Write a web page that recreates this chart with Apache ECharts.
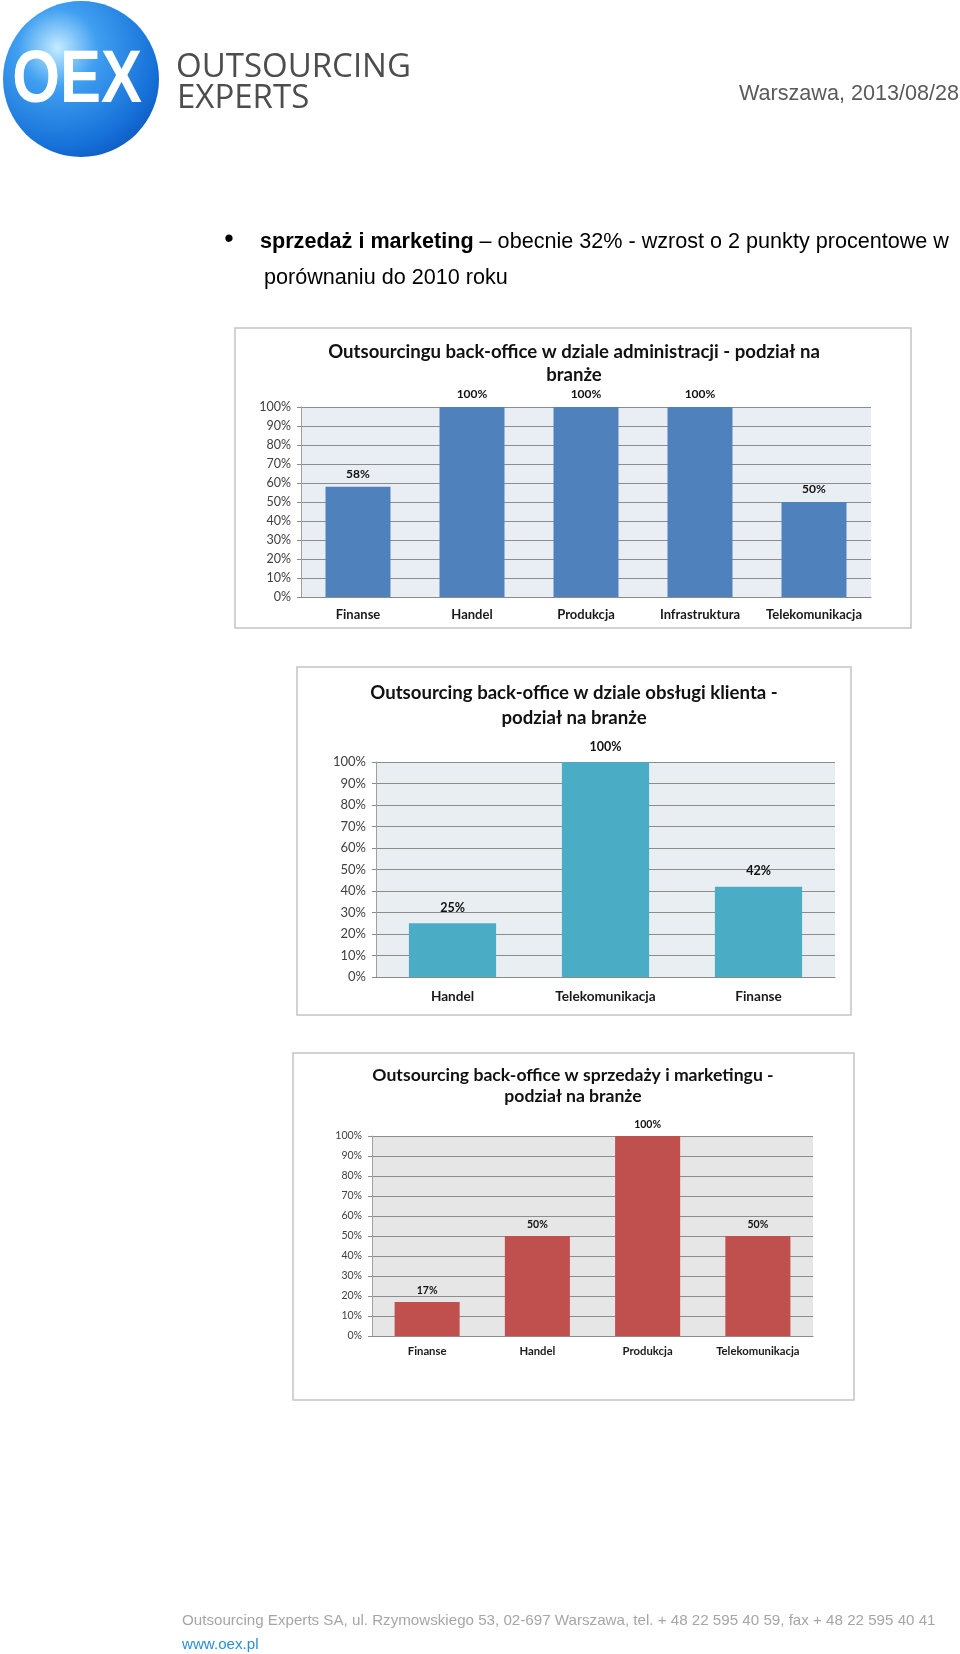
<!DOCTYPE html>
<html>
<head>
<meta charset="utf-8">
<script src="https://cdn.jsdelivr.net/npm/echarts@6/dist/echarts.min.js"></script>
<style>
html,body{margin:0;padding:0;background:#fff;}
#c{width:960px;height:1654px;}
</style>
</head>
<body>
<div id="c"></div>
<script>
// ---- data ----
const cats1 = ['Finanse', 'Handel', 'Produkcja', 'Infrastruktura', 'Telekomunikacja'];
const vals1 = [58, 100, 100, 100, 50];
const cats2 = ['Handel', 'Telekomunikacja', 'Finanse'];
const vals2 = [25, 100, 42];
const cats3 = ['Finanse', 'Handel', 'Produkcja', 'Telekomunikacja'];
const vals3 = [17, 50, 100, 50];
const yTicks = { min: 0, max: 100, interval: 10 };
const title1 = ['Outsourcingu back-office w dziale administracji - podział na', 'branże'];
const title2 = ['Outsourcing back-office w dziale obsługi klienta -', 'podział na branże'];
const title3 = ['Outsourcing back-office w sprzedaży i marketingu -', 'podział na branże'];

const CAL = 'Lato, "Open Sans", sans-serif';
const ARIAL = '"Liberation Sans", Arial, sans-serif';

const chart = echarts.init(document.getElementById('c'), null, { renderer: 'canvas' });

function mkX(gi, cats, fs, margin) {
  return {
    type: 'category', gridIndex: gi, data: cats,
    axisLine: { show: true, lineStyle: { color: '#8a8a8a', width: 1 } },
    axisTick: { show: false },
    axisLabel: { color: '#1a1a1a', fontFamily: CAL, fontWeight: 'bold', fontSize: fs, margin: margin, interval: 0 }
  };
}
function mkY(gi, fs) {
  return {
    type: 'value', gridIndex: gi, min: yTicks.min, max: yTicks.max, interval: yTicks.interval,
    axisLine: { show: true, lineStyle: { color: '#a0a0a0', width: 1 } },
    axisTick: { show: true, length: 4, lineStyle: { color: '#8a8a8a' } },
    splitLine: { show: true, lineStyle: { color: '#8c8c8c', width: 1 } },
    axisLabel: { formatter: '{value}%', color: '#404040', fontFamily: CAL, fontSize: fs, margin: 10 }
  };
}
function mkS(gi, vals, color, fs, dist, gap) {
  return {
    type: 'bar', xAxisIndex: gi, yAxisIndex: gi, data: vals,
    barCategoryGap: gap,
    itemStyle: { color: color },
    label: { show: true, position: 'top', distance: dist, formatter: '{c}%', color: '#111', fontFamily: CAL, fontWeight: 'bold', fontSize: fs },
    animation: false
  };
}
function titleLines(lines, cx, ys, fs, weight) {
  return lines.map((t, i) => ({
    type: 'text', x: cx, y: ys[i],
    style: { text: t, fill: '#111', fontFamily: CAL, fontWeight: weight, fontSize: fs, textAlign: 'center', textVerticalAlign: 'middle' }
  }));
}
function frame(x, y, w, h) {
  return { type: 'rect', shape: { x: x, y: y, width: w, height: h }, style: { fill: 'none', stroke: '#c4c4c4', lineWidth: 1.5 } };
}

const graphics = [
  // logo
  { type: 'circle', shape: { cx: 81, cy: 79, r: 78 },
    style: { fill: new echarts.graphic.RadialGradient(0.35, 0.3, 0.85, [
      { offset: 0, color: '#c4ecff' }, { offset: 0.3, color: '#3f9ff0' }, { offset: 0.75, color: '#1670d8' }, { offset: 1, color: '#0a4fb4' }]) } },
  { type: 'text', x: 77, y: 82, scaleX: 0.83,
    style: { text: 'OEX', fill: '#fff', fontFamily: ARIAL, fontWeight: 'bold', fontSize: 74, textAlign: 'center', textVerticalAlign: 'middle' } },
  { type: 'text', x: 176, y: 68, style: { text: 'OUTSOURCING', fill: '#4d4d4f', fontFamily: '"Open Sans", sans-serif', fontWeight: 500, fontSize: 33, textAlign: 'left', textVerticalAlign: 'middle' } },
  { type: 'text', x: 177, y: 99, style: { text: 'EXPERTS', fill: '#4d4d4f', fontFamily: '"Open Sans", sans-serif', fontWeight: 500, fontSize: 33, textAlign: 'left', textVerticalAlign: 'middle' } },
  { type: 'text', x: 959, y: 94, style: { text: 'Warszawa, 2013/08/28', fill: '#5a5a5a', fontFamily: ARIAL, fontSize: 21.6, textAlign: 'right', textVerticalAlign: 'middle' } },
  // bullet text
  { type: 'text', x: 229, y: 240, style: { text: '•', fill: '#000', fontFamily: ARIAL, fontSize: 27, textAlign: 'center', textVerticalAlign: 'middle' } },
  { type: 'text', x: 260, y: 242,
    style: { text: '{b|sprzedaż i marketing} – obecnie 32% - wzrost o 2 punkty procentowe w', fill: '#000', fontFamily: ARIAL, fontSize: 21.6, textAlign: 'left', textVerticalAlign: 'middle',
      rich: { b: { fontFamily: ARIAL, fontWeight: 'bold', fontSize: 21.6, fill: '#000' } } } },
  { type: 'text', x: 264, y: 278, style: { text: 'porównaniu do 2010 roku', fill: '#000', fontFamily: ARIAL, fontSize: 21.6, textAlign: 'left', textVerticalAlign: 'middle' } },
  // chart frames
  frame(235, 328, 676, 300),
  frame(297, 667, 554, 348),
  frame(293, 1053, 561, 347),
  // footer
  { type: 'text', x: 182, y: 1621, style: { text: 'Outsourcing Experts SA, ul. Rzymowskiego 53, 02-697 Warszawa, tel. + 48 22 595 40 59, fax + 48 22 595 40 41', fill: '#a6a6a6', fontFamily: ARIAL, fontSize: 15.15, textAlign: 'left', textVerticalAlign: 'middle' } },
  { type: 'text', x: 182, y: 1645, style: { text: 'www.oex.pl', fill: '#2a8ed6', fontFamily: ARIAL, fontSize: 15.15, textAlign: 'left', textVerticalAlign: 'middle' } }
].concat(
  titleLines(title1, 574, [352, 375], 18.6, 'bold'),
  titleLines(title2, 574, [693, 718], 18.6, 'bold'),
  titleLines(title3, 573, [1075, 1096], 17.6, 'bold')
);

const option = {
  animation: false,
  backgroundColor: '#ffffff',
  grid: [
    { left: 301, top: 407, width: 570, height: 190, show: true, backgroundColor: '#e9edf4', borderWidth: 0 },
    { left: 376, top: 762, width: 459, height: 215, show: true, backgroundColor: '#e9eef2', borderWidth: 0 },
    { left: 372, top: 1136, width: 441, height: 200, show: true, backgroundColor: '#e6e6e6', borderWidth: 0 }
  ],
  xAxis: [mkX(0, cats1, 13, 11), mkX(1, cats2, 13.6, 13), mkX(2, cats3, 11.3, 10)],
  yAxis: [mkY(0, 12.5), mkY(1, 13), mkY(2, 10.5)],
  series: [
    mkS(0, vals1, '#4f81bd', 12, 7, '43%'),
    mkS(1, vals2, '#4bacc6', 12.5, 9, '43%'),
    mkS(2, vals3, '#c0504d', 10.5, 6, '41%')
  ],
  graphic: graphics
};
chart.setOption(option);
</script>
</body>
</html>
